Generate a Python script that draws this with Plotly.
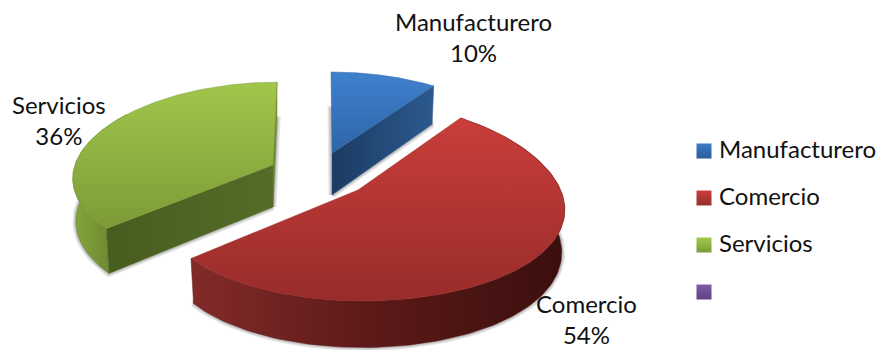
import numpy as np
import plotly.graph_objects as go

# Sector shares, in percent, with the empty fourth legend entry
categories = ["Manufacturero", "Comercio", "Servicios", ""]
shares = [10, 54, 36, 0]

FONT = "Lato"
LABEL_SIZE = 24

# Pixel-space placement of each exploded wedge
discs = {
    "Manufacturero": dict(cx=331, cy=153, rx=197, ry=91, taper=0.14, apex=(332, 153)),
    "Comercio": dict(cx=363, cy=191, rx=198, ry=99, taper=0.20, apex=(358, 190)),
    "Servicios": dict(cx=277, cy=165, rx=202, ry=93, taper=0.15, apex=(273, 165)),
}
TAPER_Y = 0.11
DEPTH = 42          # wall height
DEPTH_GROW = 0.11   # the wall looks taller towards the viewer
BASE_SHRINK = 0.985

palette = {
    "Manufacturero": dict(top=("#3F80CE", "#2E66A6"), wall=("#1B3B62", "#2C5A8E"), swatch=("#3A7CC8", "#2A5C98")),
    "Comercio": dict(top=("#C93E3A", "#982C2A"), wall=("#822B29", "#5B1918", "#3A0F0E"), swatch=("#CC3F3B", "#94302D")),
    "Servicios": dict(top=("#A1C64B", "#7C9B38"), wall=("#475C20", "#556C28"), outer=("#86A63C", "#5E7B2A"),
                      swatch=("#A5C94C", "#7B9A36")),
    "": dict(swatch=("#7F5AAA", "#5F4285")),
}


def rim(disc, t, base=False):
    """Project rim angles (radians, clockwise from the back) to pixels."""
    u, v = np.sin(t), np.cos(t)
    x = u * disc["rx"] * (1 - disc["taper"] * v)
    y = -v * disc["ry"] * (1 - TAPER_Y * v)
    if base:
        x = x * BASE_SHRINK
        y = y + DEPTH * (1 - DEPTH_GROW * v)
    return disc["cx"] + x, disc["cy"] + y


def arc(start, stop, n=120):
    return np.radians(np.linspace(start, stop, n))


def polygon(x, y, stops, kind="horizontal"):
    # The y axis runs downwards, so a vertical ramp is listed bottom colour first
    ramp = stops[::-1] if kind == "vertical" else stops
    colorscale = [[i / (len(ramp) - 1), c] for i, c in enumerate(ramp)]
    return go.Scatter(
        x=list(x) + [x[0]], y=list(y) + [y[0]], mode="lines", fill="toself",
        fillcolor=stops[0],
        fillgradient=dict(type=kind, colorscale=colorscale),
        line=dict(width=0.5, color=stops[len(stops) // 2]), hoverinfo="skip", showlegend=False,
    )


def halo(x, y):
    traces = []
    for width in (7, 4.5, 2.5):
        traces.append(go.Scatter(
            x=list(x) + [x[0]], y=list(y) + [y[0]], mode="lines",
            line=dict(width=width, color="rgba(70,70,70,0.13)"),
            hoverinfo="skip", showlegend=False,
        ))
    return traces


def wedge_traces(name, start, stop):
    disc, colors = discs[name], palette[name]
    t = arc(start, stop)
    ax, ay = disc["apex"]
    tx, ty = rim(disc, t)
    bx, by = rim(disc, t, base=True)
    base_apex_y = ay + DEPTH
    out = []

    # Soft contact shadow around the underside
    out += halo(np.r_[ax, bx], np.r_[base_apex_y, by])

    # Side walls
    if name == "Manufacturero":
        out.append(polygon([ax, tx[-1], bx[-1], ax], [ay, ty[-1], by[-1], base_apex_y], colors["wall"]))
    elif name == "Comercio":
        out.append(polygon(np.r_[tx, bx[::-1]], np.r_[ty, by[::-1]], colors["wall"]))
    else:
        # Cut face towards the viewer, outer rim on the left, thin sliver on the right
        out.append(polygon(np.r_[tx[:70], bx[:70][::-1]], np.r_[ty[:70], by[:70][::-1]], colors["outer"]))
        out.append(polygon([tx[0], ax, ax, bx[0]], [ty[0], ay, base_apex_y, by[0]], colors["wall"]))
        out.append(polygon([tx[-1], ax, ax, tx[-1]], [ty[-1], ay, base_apex_y, by[-1]], colors["outer"], "vertical"))

    # Top face
    out.append(polygon(np.r_[ax, tx], np.r_[ay, ty], colors["top"], "vertical"))
    return out


fig = go.Figure()

angles = np.cumsum([0] + shares) * 3.6
bounds = {c: (angles[i], angles[i + 1]) for i, c in enumerate(categories)}
for name in ("Servicios", "Comercio", "Manufacturero"):
    for trace in wedge_traces(name, *bounds[name]):
        fig.add_trace(trace)

# Data labels beside each wedge
label_spots = {"Manufacturero": (473.5, 36.5), "Comercio": (586, 319), "Servicios": (59, 119.5)}
for name, (lx, ly) in label_spots.items():
    fig.add_annotation(
        x=lx, y=ly, text=f"{name}<br>{shares[categories.index(name)]}%", showarrow=False,
        font=dict(family=FONT, size=LABEL_SIZE, color="#111111"), align="center",
    )

# Key on the right
key_y = [151, 198, 245, 292]
for name, y in zip(categories, key_y):
    fig.add_trace(go.Scatter(
        x=[704], y=[y], mode="markers",
        marker=dict(symbol="square", size=15, color=palette[name]["swatch"][0],
                    gradient=dict(type="vertical", color=palette[name]["swatch"][1]), line=dict(width=0)),
        hoverinfo="skip", showlegend=False,
    ))
    if name:
        fig.add_annotation(
            x=717, y=y - 3, text=name, showarrow=False, xanchor="left",
            font=dict(family=FONT, size=LABEL_SIZE, color="#111111"),
        )

fig.update_layout(
    width=880, height=350, margin=dict(l=0, r=0, t=0, b=0),
    paper_bgcolor="white", plot_bgcolor="white", showlegend=False,
    xaxis=dict(range=[0, 880], visible=False, fixedrange=True),
    yaxis=dict(range=[350, 0], visible=False, fixedrange=True),
)
fig.write_html("out.html", config=dict(displayModeBar=False))
